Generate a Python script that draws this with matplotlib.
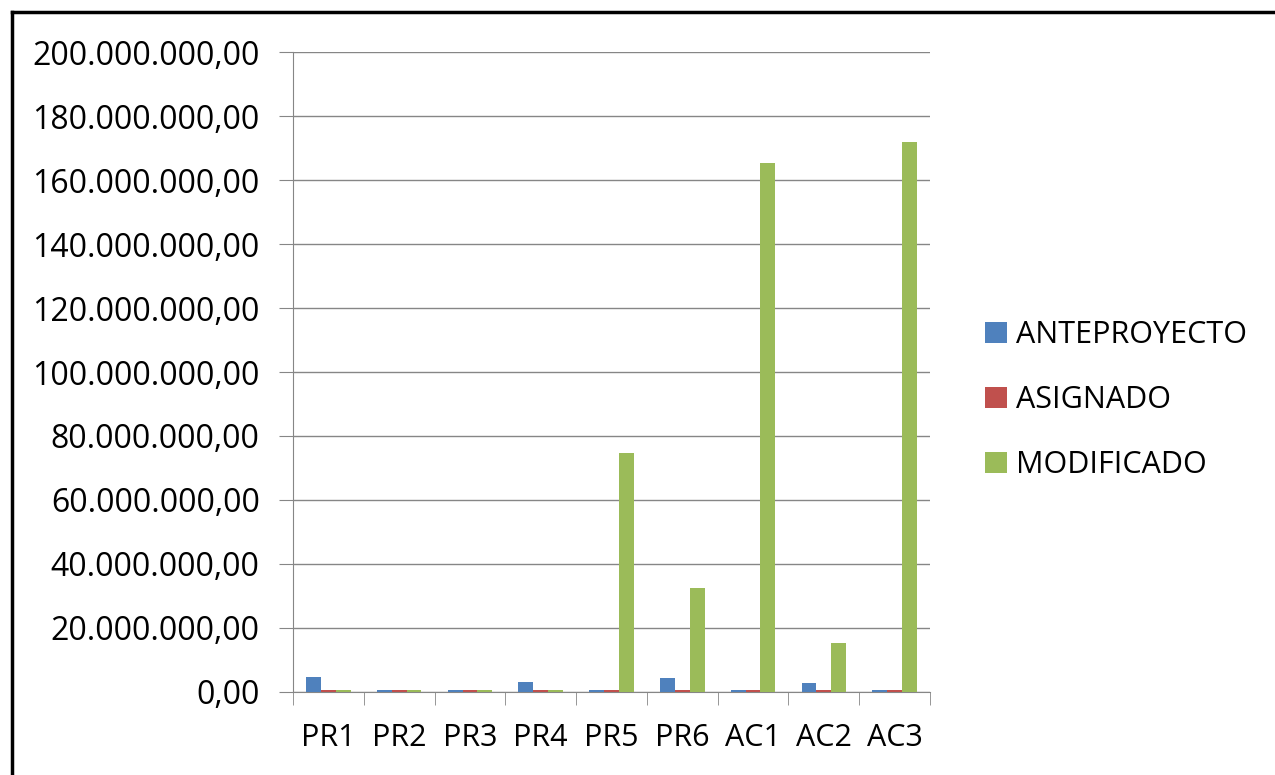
import numpy as np
import matplotlib.pyplot as plt
from matplotlib.lines import Line2D
from matplotlib.ticker import FuncFormatter

plt.rcParams['font.family'] = ['Open Sans', 'DejaVu Sans']

categorias = ['PR1', 'PR2', 'PR3', 'PR4', 'PR5', 'PR6', 'AC1', 'AC2', 'AC3']
anteproyecto = [4.8e6, 0.5e6, 0.5e6, 3.2e6, 0.5e6, 4.3e6, 0.5e6, 2.7e6, 0.5e6]
asignado = [0.5e6, 0.5e6, 0.5e6, 0.5e6, 0.5e6, 0.5e6, 0.5e6, 0.5e6, 0.5e6]
modificado = [0.5e6, 0.5e6, 0.5e6, 0.5e6, 74.7e6, 32.5e6, 165.3e6, 15.4e6, 171.9e6]

series = [('ANTEPROYECTO', anteproyecto, '#4F81BD'),
          ('ASIGNADO', asignado, '#C0504D'),
          ('MODIFICADO', modificado, '#9BBB59')]

fig = plt.figure(figsize=(12.75, 7.75), dpi=100)
ax = fig.add_axes([0.2298, 0.1071, 0.4996, 0.8258])

x = np.arange(len(categorias))
ancho = 0.21
for i, (nombre, valores, color) in enumerate(series):
    ax.bar(x + (i - 1) * ancho, valores, ancho, color=color, label=nombre, zorder=3)

ax.set_xlim(-0.5, len(categorias) - 0.5)
ax.set_ylim(0, 200e6)
ax.set_yticks(np.arange(0, 200e6 + 1, 20e6))


def formato(v, pos):
    s = f'{v:,.2f}'
    return s.replace(',', 'X').replace('.', ',').replace('X', '.')


ax.yaxis.set_major_formatter(FuncFormatter(formato))
ax.set_xticks(x)
ax.set_xticklabels(categorias)
ax.set_xticks(np.arange(-0.5, len(categorias)), minor=True)
ax.tick_params(axis='x', which='major', length=0, labelsize=22, pad=22)
ax.tick_params(axis='x', which='minor', length=9, color='#868686', direction='out')
ax.tick_params(axis='y', length=10, color='#868686', labelsize=23, pad=14)

ax.grid(axis='y', color='#868686', linewidth=1, zorder=0)
for lado in ['top', 'right']:
    ax.spines[lado].set_visible(False)
for lado in ['left', 'bottom']:
    ax.spines[lado].set_color('#868686')

ax.legend(loc='center left', bbox_to_anchor=(1.087, 0.456), frameon=False, fontsize=22,
          handlelength=0.7, handleheight=0.7, handletextpad=0.3, labelspacing=1.15,
          borderpad=0, borderaxespad=0)

fig.add_artist(Line2D([0.0094, 0.0094], [0, 0.985], transform=fig.transFigure, color='black', linewidth=2.5))
fig.add_artist(Line2D([0.0094, 1], [0.985, 0.985], transform=fig.transFigure, color='black', linewidth=2.5))

fig.savefig('out.png', dpi=100)
